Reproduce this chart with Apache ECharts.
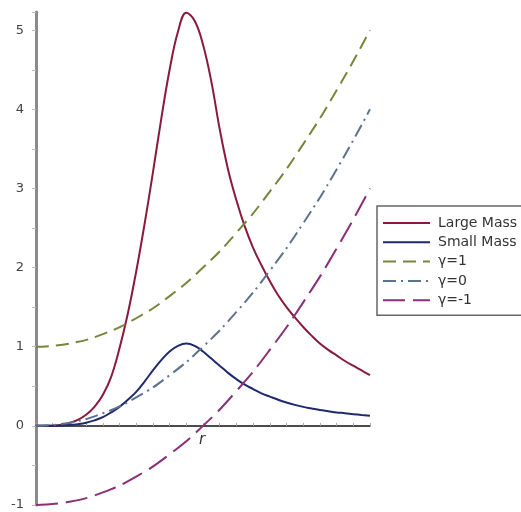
<!DOCTYPE html>
<html>
<head>
<meta charset="utf-8">
<script src="https://cdn.jsdelivr.net/npm/echarts@6/dist/echarts.min.js"></script>
<style>
html,body{margin:0;padding:0;background:#fff;}
#c{width:521px;height:512px;}
</style>
</head>
<body>
<div id="c"></div>
<script>
// r values for the mass curves (step 0.05)
var rMass = [0,0.05,0.1,0.15,0.2,0.25,0.3,0.35,0.4,0.45,0.5,0.55,0.6,0.65,0.7,0.75,0.8,0.85,0.9,0.95,1.0,
             1.05,1.1,1.15,1.2,1.25,1.3,1.35,1.4,1.45,1.5,1.55,1.6,1.65,1.7,1.75,1.8,1.85,1.9,1.95,2.0];
var largeMass = [0,0,0.003,0.012,0.035,0.075,0.14,0.24,0.39,0.62,0.98,1.42,1.95,2.55,3.2,3.88,4.5,4.98,5.22,5.12,4.82,
                 4.35,3.75,3.24,2.85,2.52,2.25,2.03,1.83,1.65,1.5,1.37,1.25,1.14,1.04,0.96,0.89,0.82,0.76,0.7,0.64];
var smallMass = [0,0,0.001,0.004,0.01,0.022,0.04,0.07,0.11,0.17,0.24,0.33,0.43,0.56,0.7,0.83,0.94,1.01,1.04,1.01,0.94,
                 0.85,0.76,0.67,0.59,0.52,0.465,0.41,0.37,0.33,0.295,0.265,0.24,0.22,0.2,0.185,0.17,0.16,0.148,0.137,0.127];
// r values for the gamma curves
var rGamma = [0,0.2,0.4,0.6,0.8,1.0,1.2,1.4,1.6,1.8,2.0];
var gamma1 = [1,1.04,1.16,1.36,1.64,2,2.44,2.96,3.56,4.24,5];
var gamma0 = [0,0.04,0.16,0.36,0.64,1,1.44,1.96,2.56,3.24,4];
var gammaM1 = [-1,-0.96,-0.84,-0.64,-0.36,0,0.44,0.96,1.56,2.24,3];
var seriesNames = ['Large Mass','Small Mass','γ=1','γ=0','γ=-1'];
var yTicks = [-1,0,1,2,3,4,5];
var xName = 'r';

function pairs(xs, ys){ return xs.map(function(x,i){ return [x, ys[i]]; }); }

var chart = echarts.init(document.getElementById('c'), null, {renderer:'canvas'});
var font = 'DejaVu Sans, sans-serif';
function mk(name, xs, ys, color, type, smooth){
  return {
    name: name, type: 'line', data: pairs(xs, ys), symbol: 'none', smooth: smooth,
    lineStyle: {color: color, width: 2, type: type},
    itemStyle: {color: color},
    z: 3
  };
}
chart.setOption({
  animation: false,
  backgroundColor: '#fff',
  grid: {left: 36, right: 151, top: 12, bottom: 7, containLabel: false, outerBoundsMode: 'none'},
  legend: {
    orient: 'vertical', left: 377, top: 206,
    data: seriesNames,
    padding: [10, 8, 8, 5], itemGap: 5.3, itemWidth: 47, itemHeight: 14,
    borderColor: '#666', borderWidth: 1.5,
    itemStyle: {opacity: 0, color: 'rgba(0,0,0,0)', borderWidth: 0},
    textStyle: {fontFamily: font, fontSize: 14, color: '#333', padding: [0,0,0,3]}
  },
  graphic: [{
    type: 'text', left: 199, top: 433,
    style: {text: xName, font: 'italic 15px DejaVu Sans, sans-serif', fill: '#333'}
  }],
  xAxis: {
    type: 'value', min: 0, max: 2, interval: 0.1,
    axisLine: {onZero: true, lineStyle: {color: '#111', width: 1.5}},
    axisTick: {show: true, length: 3, inside: true, lineStyle: {color: '#aaa'}},
    axisLabel: {show: false},
    splitLine: {show: false}
  },
  yAxis: {
    type: 'value', min: -1, max: 5.23, interval: 0.5,
    axisLine: {show: true, onZero: false, lineStyle: {color: '#8a8a8a', width: 3}},
    axisTick: {show: true, length: 4, lineStyle: {color: '#bbb'}},
    axisLabel: {
      margin: 12, fontFamily: font, fontSize: 13, color: '#444',
      formatter: function(v){ return yTicks.indexOf(v) >= 0 ? String(v) : ''; }
    },
    splitLine: {show: false}
  },
  series: [
    mk('Large Mass', rMass, largeMass, '#8a1a3c', 'solid', 0.4),
    mk('Small Mass', rMass, smallMass, '#1f2a6e', 'solid', 0.4),
    mk('γ=1', rGamma, gamma1, '#74873a', [13, 7], true),
    mk('γ=0', rGamma, gamma0, '#5c7290', [13, 5, 2, 5], true),
    mk('γ=-1', rGamma, gammaM1, '#8a2f78', [22, 8], true)
  ]
});
</script>
</body>
</html>
